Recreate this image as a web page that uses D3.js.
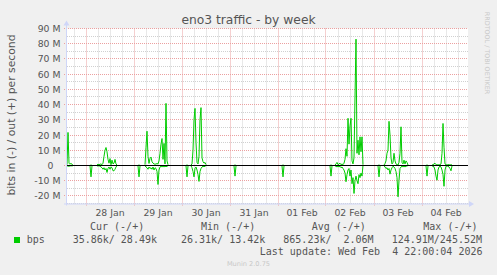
<!DOCTYPE html>
<html>
<head>
<meta charset="utf-8">
<script src="https://cdn.jsdelivr.net/npm/d3@7"></script>
<style>
  body { margin: 0; background: #f0f0f0; }
  svg { display: block; }
</style>
</head>
<body>
<svg width="497" height="275"></svg>
<script>
// Start of each run of samples (30 minute steps), gaps between runs have no data
const runStarts = [
  "2026-01-27T14:30", "2026-01-28T02:00", "2026-01-28T05:30", "2026-01-29T02:00",
  "2026-01-29T05:30", "2026-01-30T02:00", "2026-01-30T04:30", "2026-01-31T02:00",
  "2026-02-01T02:00", "2026-02-02T02:00", "2026-02-02T04:30", "2026-02-03T02:00",
  "2026-02-03T05:00", "2026-02-04T02:00", "2026-02-04T05:00"
];

// Outgoing traffic, Mbit/s
const outRuns = [
  [0.5, 21.7, 1.5, 0.8, 1.5, 0.5, 0.3],
  [0.1, 0.2, 0.1],
  [0.5, 0.8, 0.5, 0.8, 1, 0.5, 1.5, 6, 10, 11.8, 9, 4, 1.5, 4.5, 0.5, 3.5, 1, 1.5, 4, 1, 0.2],
  [0.1, 0.2, 0.1],
  [0.5, 12, 22.5, 6, 1.3, 4.6, 5.5, 2.5, 1.5, 1, 0.8, 1, 1.2, 1, 3, 8, 14, 17.7, 4, 14.5, 1, 40.8, 3, 0.5],
  [0.1, 0.2, 0.1],
  [0.3, 1, 10, 30, 37.5, 15, 2, 1, 6, 30, 38, 5, 2.5, 1.5, 2, 0.5],
  [0.1, 0.2, 0.1],
  [0.1, 0.2, 0.1],
  [0.1, 0.2, 0.1],
  [0.3, 1, 2, 0.5, 1, 1.5, 0.5, 1, 0.5, 1.5, 4, 11, 6, 31, 14, 26, 31, 3, 1, 5, 45, 83, 8, 16.6, 7, 18.8, 9, 18.8, 0.5],
  [0.1, 0.2, 0.1],
  [0.3, 1.3, 3, 8, 10, 29, 20, 5, 1, 2, 8, 3, 1, 0.5, 0.3, 2, 8, 25.4, 2, 1, 3.5, 1, 3, 2, 0.3],
  [0.1, 0.2, 0.1],
  [0.3, 0.5, 1, 1.5, 0.5, 0.3, 0.5, 0.3, 0.5, 1, 8, 27.6, 12, 1, 0.5, 0.3, 0.5, 0.5, 0.3, 0.5, 0.3]
];

// Incoming traffic, Mbit/s (drawn below zero)
const inRuns = [
  [-0.2, -0.4, -0.5, -0.3, -0.2, -0.3, -0.1],
  [-0.3, -7.5, -0.3],
  [-0.3, -0.3, -0.2, -0.5, -1, -1.5, -2.5, -1.5, -3, -2, -4.6, -2, -1, -2.5, -1, -1.5, -3.5, -3.5, -2.5, -1, -0.2],
  [-0.3, -7.5, -0.3],
  [-0.3, -1, -1.5, -2.5, -1, -2, -1.5, -2.5, -1, -3, -1.5, -2, -4, -12.5, -3, -1, -0.5, -1, -0.5, -1, -0.5, -0.8, -0.5, -0.2],
  [-0.3, -7.5, -0.3],
  [-0.3, -1.5, -4, -7.5, -2, -1, -3, -6, -10.5, -4, -2, -1, -0.5, -0.8, -0.5, -0.1],
  [-0.3, -7, -0.3],
  [-0.3, -7.5, -0.3],
  [-0.3, -7, -0.3],
  [-0.3, -0.5, -1, -0.5, -1, -0.5, -1.5, -1, -2, -3, -5, -10.7, -6, -3, -2, -7, -3, -12, -8, -18.4, -10, -7, -10, -12, -6, -8, -5, -7, 0],
  [-0.3, -7.5, -0.3],
  [-0.3, -1, -2, -1.5, -3, -2, -5.7, -3, -1.5, -0.5, -1, -2, -4, -8, -20.6, -10, -2, -1, -0.5, -1, -0.5, -1, -0.5, -0.3, -0.1],
  [-0.3, -7, -0.3],
  [-0.3, -0.5, -1, -3, -7, -9.7, -3, -1, -0.5, -1, -3, -6, -13.7, -3, -0.5, -0.3, -0.5, -1, -2, -3.5, -0.3]
];

// Axis labels
const yLabels = [90, 80, 70, 60, 50, 40, 30, 20, 10, 0, -10, -20];
const timeRange = ["2026-01-27T14:30", "2026-02-04T23:00"];

// Legend texts
const legendHeads = ["Cur (-/+)", "Min (-/+)", "Avg (-/+)", "Max (-/+)"];
const legendValues = ["35.86k/ 28.49k", "26.31k/ 13.42k", "865.23k/  2.06M", "124.91M/245.52M"];
const lastUpdate = "Last update: Wed Feb  4 22:00:04 2026";

const svg = d3.select("svg");
const parse = d3.timeParse("%Y-%m-%dT%H:%M");
const step = 30 * 60 * 1000;

const plotLeft = 67, plotRight = 468, plotTop = 28.5, plotBottom = 203.5;
const fontSans = "'DejaVu Sans', sans-serif";
const fontMono = "'DejaVu Sans Mono', monospace";
const textColor = "#555";

// Scales
const x = d3.scaleTime()
  .domain(timeRange.map(parse))
  .range([plotLeft, plotRight]);

const y = d3.scaleLinear()
  .domain([-25, 90])
  .range([plotBottom, plotTop]);

const snap = v => Math.round(v - 0.5) + 0.5;

// White canvas
svg.append("rect")
  .attr("x", plotLeft)
  .attr("y", plotTop)
  .attr("width", plotRight - plotLeft)
  .attr("height", plotBottom - plotTop)
  .attr("fill", "#ffffff");

// Minor grid (every 5 M, every 6 hours)
const minorY = d3.range(-25, 91, 5).filter(v => v % 10 !== 0);
svg.selectAll(".minorY")
  .data(minorY)
  .enter()
  .append("line")
  .attr("x1", plotLeft)
  .attr("x2", plotRight)
  .attr("y1", d => snap(y(d)))
  .attr("y2", d => snap(y(d)))
  .attr("stroke", "#d0d0d0")
  .attr("stroke-dasharray", "1,1");

const hours = d3.timeHour.every(6).range(x.domain()[0], x.domain()[1]);
svg.selectAll(".minorX")
  .data(hours.filter(d => d.getHours() !== 0))
  .enter()
  .append("line")
  .attr("x1", d => snap(x(d)))
  .attr("x2", d => snap(x(d)))
  .attr("y1", plotTop)
  .attr("y2", plotBottom)
  .attr("stroke", "#d0d0d0")
  .attr("stroke-dasharray", "1,1");

// Major grid (every 10 M, every day)
svg.selectAll(".majorY")
  .data(yLabels)
  .enter()
  .append("line")
  .attr("x1", plotLeft - 3)
  .attr("x2", plotRight)
  .attr("y1", d => snap(y(d)))
  .attr("y2", d => snap(y(d)))
  .attr("stroke", "#eba0a0")
  .attr("stroke-dasharray", "1,1");

const days = d3.timeDay.range(x.domain()[0], x.domain()[1]);
svg.selectAll(".majorX")
  .data(days)
  .enter()
  .append("line")
  .attr("x1", d => snap(x(d)))
  .attr("x2", d => snap(x(d)))
  .attr("y1", plotTop)
  .attr("y2", plotBottom + 2)
  .attr("stroke", "#eba0a0")
  .attr("stroke-dasharray", "1,1");

// Build the points of each run
function toPoints(runs) {
  return runs.map((vals, i) => {
    const t0 = parse(runStarts[i]).getTime();
    return vals.map((v, k) => ({ t: new Date(t0 + k * step), v: v }));
  });
}

const line = d3.line()
  .x(d => x(d.t))
  .y(d => y(d.v));

// Traffic lines, in below zero and out above
svg.selectAll(".inLine")
  .data(toPoints(inRuns))
  .enter()
  .append("path")
  .attr("d", line)
  .attr("fill", "none")
  .attr("stroke", "#00cc00")
  .attr("stroke-width", 1);

svg.selectAll(".outLine")
  .data(toPoints(outRuns))
  .enter()
  .append("path")
  .attr("d", line)
  .attr("fill", "none")
  .attr("stroke", "#00cc00")
  .attr("stroke-width", 1);

// Zero line
svg.append("line")
  .attr("x1", plotLeft)
  .attr("x2", plotRight)
  .attr("y1", snap(y(0)))
  .attr("y2", snap(y(0)))
  .attr("stroke", "#000000");

// Axes with arrows
const axisColor = "#cfd6f8";
svg.append("line")
  .attr("x1", plotLeft - 0.5)
  .attr("x2", plotLeft - 0.5)
  .attr("y1", plotBottom + 2)
  .attr("y2", plotTop - 5)
  .attr("stroke", axisColor);
svg.append("path")
  .attr("d", `M${plotLeft - 3.5},${plotTop - 3} L${plotLeft - 0.5},${plotTop - 8} L${plotLeft + 2.5},${plotTop - 3} Z`)
  .attr("fill", axisColor);

svg.append("line")
  .attr("x1", plotLeft - 3)
  .attr("x2", plotRight + 3)
  .attr("y1", plotBottom + 0.5)
  .attr("y2", plotBottom + 0.5)
  .attr("stroke", axisColor);
svg.append("path")
  .attr("d", `M${plotRight + 1},${plotBottom - 2.5} L${plotRight + 6},${plotBottom + 0.5} L${plotRight + 1},${plotBottom + 3.5} Z`)
  .attr("fill", axisColor);

// Y tick labels
svg.selectAll(".yLabel")
  .data(yLabels)
  .enter()
  .append("text")
  .attr("x", d => d === 0 ? 53.5 : 60.5)
  .attr("y", d => snap(y(d)) + 3.3)
  .attr("text-anchor", "end")
  .attr("font-family", fontSans)
  .attr("font-size", "9.3px")
  .attr("fill", textColor)
  .text(d => d === 0 ? "0" : d + " M");

// X tick labels at noon of each day
const fmtDay = d3.timeFormat("%d %b");
svg.selectAll(".xLabel")
  .data(days)
  .enter()
  .append("text")
  .attr("x", d => x(d3.timeHour.offset(d, 12)))
  .attr("y", 215.5)
  .attr("text-anchor", "middle")
  .attr("font-family", fontSans)
  .attr("font-size", "9.3px")
  .attr("fill", textColor)
  .text(fmtDay);

// Title
svg.append("text")
  .attr("x", 248.5)
  .attr("y", 24)
  .attr("text-anchor", "middle")
  .attr("font-family", fontSans)
  .attr("font-size", "12.3px")
  .attr("fill", textColor)
  .text("eno3 traffic - by week");

// Vertical axis title
svg.append("text")
  .attr("transform", "translate(14.5,115) rotate(-90)")
  .attr("text-anchor", "middle")
  .attr("font-family", fontSans)
  .attr("font-size", "10.8px")
  .attr("fill", textColor)
  .text("bits in (-) / out (+) per second");

// Watermark on the right
svg.append("text")
  .attr("transform", "translate(485,53) rotate(90)")
  .attr("text-anchor", "middle")
  .attr("font-family", fontSans)
  .attr("font-size", "6.4px")
  .attr("fill", "#c8c8c8")
  .text("RRDTOOL / TOBI OETIKER");

// Legend
const headX = [90, 201, 311.7, 423.3];
const valueX = [72.7, 181, 283.3, 391.7];

svg.selectAll(".legendHead")
  .data(legendHeads)
  .enter()
  .append("text")
  .attr("x", (d, i) => headX[i])
  .attr("y", 229.5)
  .attr("font-family", fontMono)
  .attr("font-size", "10px")
  .attr("fill", textColor)
  .style("white-space", "pre")
  .text(d => d);

svg.append("rect")
  .attr("x", 14)
  .attr("y", 237)
  .attr("width", 6)
  .attr("height", 6)
  .attr("fill", "#00cc00");

svg.append("text")
  .attr("x", 26.7)
  .attr("y", 242.5)
  .attr("font-family", fontMono)
  .attr("font-size", "10px")
  .attr("fill", textColor)
  .text("bps");

svg.selectAll(".legendValue")
  .data(legendValues)
  .enter()
  .append("text")
  .attr("x", (d, i) => valueX[i])
  .attr("y", 242.5)
  .attr("font-family", fontMono)
  .attr("font-size", "10px")
  .attr("fill", textColor)
  .style("white-space", "pre")
  .text(d => d);

svg.append("text")
  .attr("x", 482.5)
  .attr("y", 255)
  .attr("text-anchor", "end")
  .attr("font-family", fontMono)
  .attr("font-size", "10px")
  .attr("fill", textColor)
  .style("white-space", "pre")
  .text(lastUpdate);

svg.append("text")
  .attr("x", 248.5)
  .attr("y", 266)
  .attr("text-anchor", "middle")
  .attr("font-family", fontSans)
  .attr("font-size", "6.6px")
  .attr("fill", "#c8c8c8")
  .text("Munin 2.0.75");
</script>
</body>
</html>
